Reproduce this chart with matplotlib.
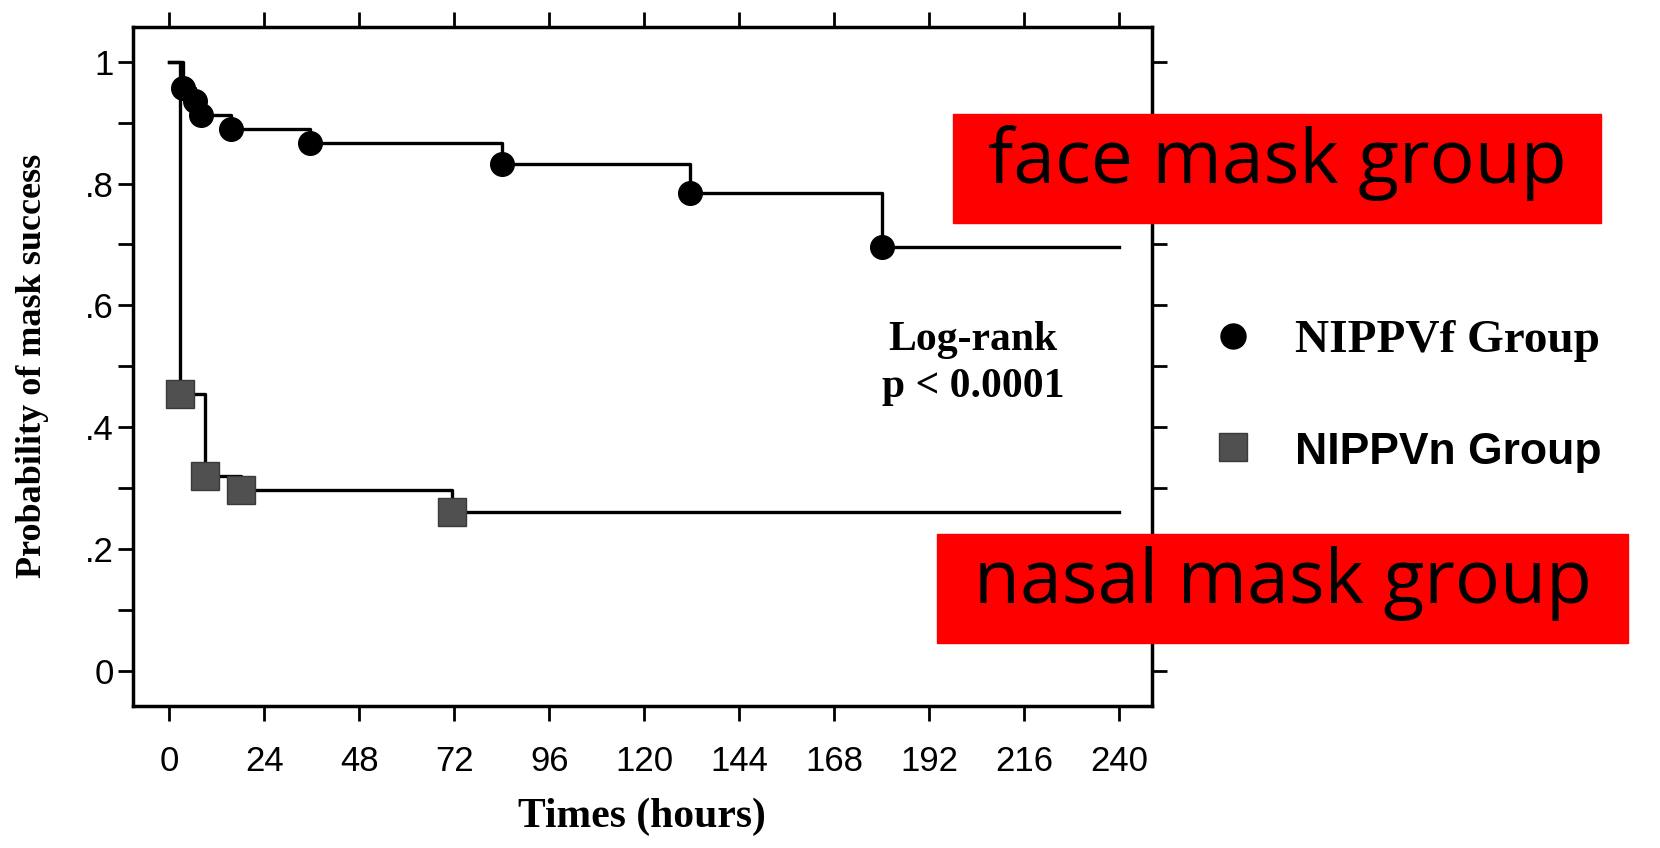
import matplotlib.pyplot as plt
import numpy as np
from matplotlib.lines import Line2D
from matplotlib.patches import Rectangle

# face mask group (NIPPVf): times of drops (hours) and probability after each drop
face_t = [0, 3.5, 6.5, 8, 15.5, 35.5, 84, 131.6, 180]
face_s = [1, 0.957, 0.935, 0.913, 0.889, 0.866, 0.832, 0.785, 0.696]
# nasal mask group (NIPPVn)
nasal_t = [0, 2.7, 9, 18, 71.5]
nasal_s = [1, 0.455, 0.32, 0.297, 0.261]
t_end = 240

xticks = list(range(0, 241, 24))
yticks = [0, 0.2, 0.4, 0.6, 0.8, 1]
ytick_labels = ['0', '.2', '.4', '.6', '.8', '1']

W, H = 1660, 848
fig = plt.figure(figsize=(W / 100, H / 100), dpi=100)
ax = fig.add_axes([133 / W, 1 - 706 / H, (1151.7 - 133) / W, (706 - 26.7) / H])

ax.step(face_t + [t_end], face_s + [face_s[-1]], where='post', color='k', lw=2.4, zorder=2)
ax.step(nasal_t + [t_end], nasal_s + [nasal_s[-1]], where='post', color='k', lw=2.4, zorder=2)
ax.plot(face_t[1:], face_s[1:], 'o', color='k', ms=17, zorder=3)
ax.plot(nasal_t[1:], nasal_s[1:], 's', color='#505050', mec='#3a3a3a', ms=20, zorder=3)

ax.set_xlim(-9.2, 248.2)
ax.set_ylim(-0.058, 1.0575)
ax.set_xticks(xticks)
ax.set_yticks(yticks)
ax.set_yticklabels(ytick_labels)
ax.set_yticks(np.arange(0, 1.01, 0.1), minor=True)
ax.tick_params(which='both', direction='out', length=11, width=2,
               top=True, right=True, labelsize=25)
ax.tick_params(axis='x', pad=17)
ax.tick_params(axis='y', pad=3)
for lab in ax.get_xticklabels() + ax.get_yticklabels():
    lab.set_fontfamily('Liberation Sans')
for sp in ax.spines.values():
    sp.set_linewidth(2.5)

ax.set_xlabel('Times (hours)', fontsize=30, fontweight='bold', family='Liberation Serif')
ax.xaxis.set_label_coords(0.5, -0.135)
ax.set_ylabel('Probability of mask success', fontsize=26, fontweight='bold', family='Liberation Serif')
ax.yaxis.set_label_coords(-0.082, 0.5)

ax.text(203, 0.505, 'Log-rank\np < 0.0001', ha='center', va='center', fontsize=30,
        fontweight='bold', family='Liberation Serif', linespacing=1.3)

handles = [Line2D([], [], marker='o', ls='none', color='k', ms=18),
           Line2D([], [], marker='s', ls='none', color='#505050', mec='#3a3a3a', ms=20)]
leg = ax.legend(handles, ['NIPPVf Group', 'NIPPVn Group'], loc='center left',
                bbox_to_anchor=(1209.5 / W, 1 - 396 / H), bbox_transform=fig.transFigure,
                frameon=False, fontsize=34, borderpad=0, borderaxespad=0,
                handlelength=1.0, handletextpad=0.8, labelspacing=1.45)
t0, t1 = leg.get_texts()
t0.set_fontfamily('Liberation Serif')
t0.set_fontweight('bold')
t1.set_fontfamily('Liberation Sans')
t1.set_fontweight('bold')
t1.set_fontsize(32)

# red label boxes
boxes = [(953, 114, 1601, 223, 'face mask group'),
         (937, 534, 1628, 643, 'nasal mask group')]
for x0, y0, x1, y1, txt in boxes:
    fig.add_artist(Rectangle((x0 / W, 1 - y1 / H), (x1 - x0) / W, (y1 - y0) / H,
                             transform=fig.transFigure, color='#ff0000', zorder=10))
    fig.text((x0 + x1) / 2 / W, 1 - (y0 + 69) / H, txt, ha='center', va='baseline',
             fontsize=54, family='Open Sans', color='k', zorder=11)

plt.savefig('out.png', dpi=100)
